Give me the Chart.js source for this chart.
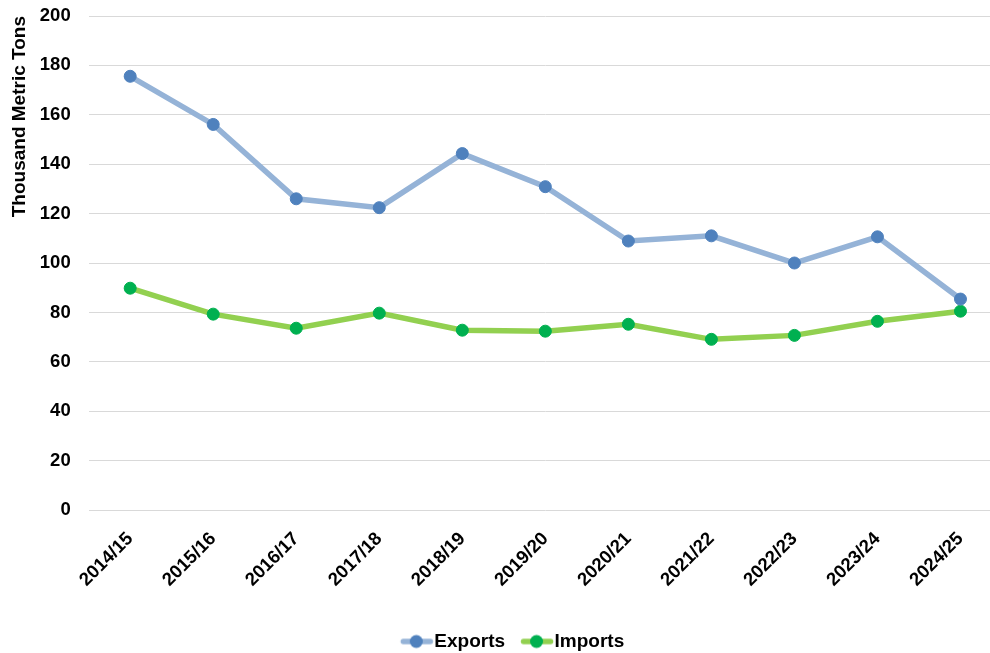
<!DOCTYPE html>
<html>
<head>
<meta charset="utf-8">
<script src="https://cdn.jsdelivr.net/npm/chart.js@4"></script>
<style>
html,body{margin:0;padding:0;background:#fff;overflow:hidden;}
#wrap{width:1009px;height:653px;position:relative;}
</style>
</head>
<body>
<div id="wrap"><canvas id="c"></canvas></div>
<script>
const categories = ["2014/15","2015/16","2016/17","2017/18","2018/19","2019/20","2020/21","2021/22","2022/23","2023/24","2024/25"];
const exportsValues = [175.6,156.1,126.0,122.4,144.3,130.9,108.9,111.0,100.0,110.6,85.4];
const importsValues = [89.8,79.3,73.6,79.7,72.8,72.4,75.2,69.1,70.7,76.4,80.5];
const yTicks = [0,20,40,60,80,100,120,140,160,180,200];

const FAM = "'Liberation Sans', Arial, sans-serif";
const LEG_FS = 19;
const BOXW = 32;

function legendIcon(lineColor, pointColor){
  const W = 80, H = 16;
  const c = document.createElement('canvas');
  c.width = W; c.height = H;
  const x = c.getContext('2d');
  const imgLeft = BOXW/2 - W/2;
  const L = BOXW + LEG_FS/2 - 34 - imgLeft;
  x.strokeStyle = lineColor; x.lineWidth = 5.5; x.lineCap = 'round';
  x.beginPath(); x.moveTo(L+3, H/2); x.lineTo(L+30, H/2); x.stroke();
  x.fillStyle = pointColor;
  x.beginPath(); x.arc(L+16, H/2, 6.5, 0, Math.PI*2); x.fill();
  return c;
}
const icons = [legendIcon('#95B3D7','#4F81BD'), legendIcon('#92D050','#00B050')];

new Chart(document.getElementById('c'), {
  type:'line',
  data:{
    labels:categories,
    datasets:[
      {label:'Exports', data:exportsValues, borderColor:'#95B3D7', backgroundColor:'#4F81BD',
       pointBackgroundColor:'#4F81BD', pointBorderColor:'#4F81BD', borderWidth:5.5, pointBorderWidth:1, pointRadius:6, pointHoverRadius:6, tension:0},
      {label:'Imports', data:importsValues, borderColor:'#92D050', backgroundColor:'#00B050',
       pointBackgroundColor:'#00B050', pointBorderColor:'#00B050', borderWidth:5.5, pointBorderWidth:1, pointRadius:6, pointHoverRadius:6, tension:0}
    ]
  },
  options:{
    responsive:true, maintainAspectRatio:false, animation:false,
    layout:{padding:{left:8,right:0,top:16,bottom:-8}},
    plugins:{
      tooltip:{enabled:false},
      legend:{
        position:'bottom',
        labels:{
          font:{family:FAM, weight:'bold', size:LEG_FS}, color:'#000',
          usePointStyle:true, pointStyleWidth:BOXW, padding:8,
          generateLabels(chart){
            return chart.data.datasets.map((d,i)=>({text:d.label, pointStyle:icons[i], fillStyle:'transparent', strokeStyle:'transparent', lineWidth:0, datasetIndex:i, fontColor:'#000'}));
          }
        }
      }
    },
    scales:{
      x:{
        offset:true,
        grid:{display:false},
        border:{display:false},
        afterFit(scale){ scale.paddingRight = 0; scale.paddingLeft = 0; scale.height += 23; },
        ticks:{font:{family:FAM, weight:'bold', size:18.5}, color:'#000', maxRotation:45, minRotation:45, padding:10}
      },
      y:{
        min:0, max:200,
        afterBuildTicks(scale){ scale.ticks = yTicks.map(v=>({value:v})); },
        afterFit(scale){ scale.paddingTop = 0; scale.width -= 19; },
        grid:{color:'#d9d9d9', lineWidth:1, drawTicks:false},
        border:{display:false},
        ticks:{font:{family:FAM, weight:'bold', size:18.5}, color:'#000', padding:18},
        title:{display:true, text:'Thousand Metric Tons', align:'end', font:{family:FAM, weight:'bold', size:19}, color:'#000', padding:{top:0,bottom:10}}
      }
    }
  }
});
</script>
</body>
</html>
